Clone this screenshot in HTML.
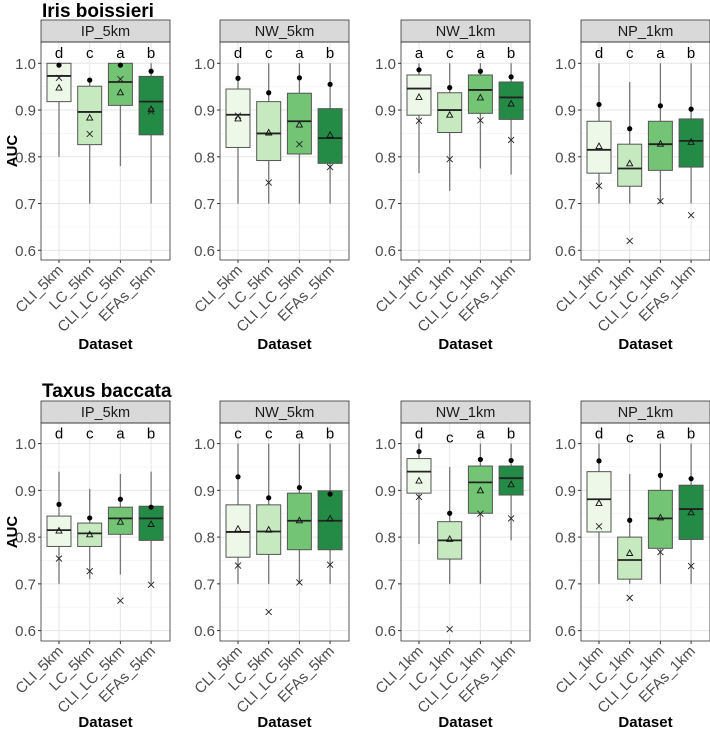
<!DOCTYPE html>
<html><head><meta charset="utf-8">
<style>
html,body{margin:0;padding:0;background:#fff;}
svg{display:block;font-family:"Liberation Sans",Arial,sans-serif;}
</style></head>
<body>
<svg id="chart" width="710" height="729" viewBox="0 0 710 729" xmlns="http://www.w3.org/2000/svg"></svg>
<script>
// ---- data ----
const categories5 = ["CLI_5km","LC_5km","CLI_LC_5km","EFAs_5km"];
const categories1 = ["CLI_1km","LC_1km","CLI_LC_1km","EFAs_1km"];
const panelTitles = ["IP_5km","NW_5km","NW_1km","NP_1km","IP_5km","NW_5km","NW_1km","NP_1km"];
const rowTitles = ["Iris boissieri","Taxus baccata"];
const yTicks = [0.6,0.7,0.8,0.9,1.0];
const yTickLabels = ["0.6","0.7","0.8","0.9","1.0"];
// each box: [lowerWhisker, q1, median, q3, upperWhisker]
const boxStats = [
 [[0.80,0.918,0.973,1.0,1.0],[0.70,0.826,0.896,0.951,0.965],[0.78,0.91,0.96,1.0,1.0],[0.70,0.847,0.918,0.972,1.0]],
 [[0.70,0.82,0.89,0.945,1.0],[0.70,0.792,0.85,0.918,1.0],[0.70,0.806,0.876,0.936,1.0],[0.70,0.786,0.84,0.903,1.0]],
 [[0.765,0.889,0.946,0.975,1.0],[0.727,0.852,0.90,0.937,1.0],[0.775,0.893,0.943,0.975,1.0],[0.762,0.88,0.927,0.96,1.0]],
 [[0.70,0.765,0.815,0.876,1.0],[0.70,0.737,0.775,0.827,0.96],[0.70,0.771,0.827,0.876,1.0],[0.70,0.778,0.834,0.881,1.0]],
 [[0.70,0.78,0.815,0.845,0.94],[0.71,0.78,0.808,0.83,0.903],[0.72,0.806,0.84,0.864,0.935],[0.70,0.793,0.84,0.866,0.94]],
 [[0.70,0.757,0.811,0.869,1.0],[0.70,0.763,0.812,0.869,1.0],[0.70,0.773,0.835,0.894,1.0],[0.70,0.773,0.835,0.899,1.0]],
 [[0.785,0.894,0.94,0.968,1.0],[0.70,0.753,0.793,0.833,0.95],[0.70,0.851,0.917,0.952,1.0],[0.793,0.89,0.926,0.952,1.0]],
 [[0.70,0.811,0.881,0.94,1.0],[0.70,0.71,0.751,0.80,0.935],[0.70,0.776,0.84,0.90,1.0],[0.70,0.795,0.86,0.911,1.0]]
];
const dotValues = [
 [0.996,0.964,0.996,0.983],[0.968,0.937,0.969,0.955],[0.986,0.948,0.983,0.971],[0.912,0.86,0.909,0.902],
 [0.87,0.841,0.881,0.864],[0.929,0.884,0.906,0.892],[0.983,0.851,0.966,0.964],[0.963,0.836,0.932,0.925]
];
const triangleValues = [
 [0.948,0.884,0.938,0.902],[0.882,0.852,0.869,0.847],[0.928,0.890,0.927,0.914],[0.823,0.786,0.828,0.832],
 [0.814,0.806,0.833,0.828],[0.818,0.816,0.836,0.84],[0.921,0.796,0.90,0.913],[0.873,0.766,0.842,0.853]
];
const crossValues = [
 [0.969,0.849,0.966,0.897],[0.888,0.745,0.827,0.778],[0.877,0.795,0.878,0.836],[0.738,0.62,0.705,0.675],
 [0.754,0.727,0.664,0.698],[0.739,0.64,0.703,0.741],[0.886,0.603,0.85,0.84],[0.823,0.67,0.768,0.738]
];
const letters = [
 ["d","c","a","b"],["d","c","a","b"],["a","c","a","b"],["d","c","a","b"],
 ["d","c","a","b"],["c","c","a","b"],["d","c","a","b"],["d","c","a","b"]
];
const letterValues = [
 [1.022,1.022,1.022,1.022],[1.022,1.022,1.022,1.022],[1.022,1.022,1.022,1.022],[1.022,1.022,1.022,1.022],
 [1.022,1.022,1.022,1.022],[1.022,1.022,1.022,1.022],[1.022,1.013,1.022,1.022],[1.022,1.013,1.022,1.022]
];
const fills = ["#edf8e9","#c7e9c0","#74c476","#238b45"];

// ---- layout ----
const NS="http://www.w3.org/2000/svg";
const svg=document.getElementById("chart");
const panelLefts=[41,220,401,581];
const PW=129;
const rowStripTop=[20,401], rowStripBot=[42,423], rowPanelBot=[260,641], rowY1=[63.3,443.6];
const PXPER=467.5;
function mk(tag,attrs,parent){const e=document.createElementNS(NS,tag);for(const k in attrs)e.setAttribute(k,attrs[k]);(parent||svg).appendChild(e);return e;}
function yScale(row,v){return rowY1[row]-(v-1.0)*PXPER;}
function xScale(p,i){return panelLefts[p]+18+i*30.7;}

rowTitles.forEach((t,r)=>{
  const e=mk("text",{x:42,y:r===0?17:397,"font-size":"19","font-weight":"bold",fill:"#000"});
  e.textContent=t;
  
  
});

for(let k=0;k<8;k++){
  const row=k<4?0:1, p=k%4;
  const L=panelLefts[p], T=rowStripBot[row], B=rowPanelBot[row];
  const cats=(p<2)?categories5:categories1;
  const g=mk("g",{});
  
  
  mk("rect",{x:L,y:T,width:PW,height:B-T,fill:"#fff"},g);
  for(let v=0.6;v<=1.04;v+=0.05){
    const y=yScale(row,v);
    const major=Math.abs(Math.round(v*10)-v*10)<1e-6;
    mk("line",{x1:L,x2:L+PW,y1:y,y2:y,stroke:major?"#e6e6e6":"#f2f2f2","stroke-width":major?1:0.6},g);
  }
  for(let i=0;i<4;i++){const x=xScale(p,i);mk("line",{x1:x,x2:x,y1:T,y2:B,stroke:"#e6e6e6","stroke-width":1},g);}
  const s=mk("rect",{x:L,y:rowStripTop[row],width:PW,height:T-rowStripTop[row],fill:"#d9d9d9",stroke:"#333","stroke-width":0.8},g);
  
  
  const st=mk("text",{x:L+PW/2,y:rowStripTop[row]+16,"text-anchor":"middle","font-size":"14.5",fill:"#1a1a1a"},g);
  st.textContent=panelTitles[k];
  for(let i=0;i<4;i++){
    const x=xScale(p,i), b=boxStats[k][i];
    const bg=mk("g",{},g);
    
    
    mk("line",{x1:x,x2:x,y1:yScale(row,b[0]),y2:yScale(row,b[1]),stroke:"#777","stroke-width":1.3},bg);
    mk("line",{x1:x,x2:x,y1:yScale(row,b[3]),y2:yScale(row,b[4]),stroke:"#777","stroke-width":1.3},bg);
    mk("rect",{x:x-12,y:yScale(row,b[3]),width:24,height:yScale(row,b[1])-yScale(row,b[3]),fill:fills[i],stroke:"#555","stroke-width":1},bg);
    mk("line",{x1:x-12,x2:x+12,y1:yScale(row,b[2]),y2:yScale(row,b[2]),stroke:"#222","stroke-width":1.8},bg);
    const dy=yScale(row,dotValues[k][i]);
    mk("circle",{cx:x,cy:dy,r:2.6,fill:"#000"},bg);
    const ty=yScale(row,triangleValues[k][i]);
    mk("polygon",{points:`${x-3},${ty+2.5} ${x+3},${ty+2.5} ${x},${ty-3}`,fill:"none",stroke:"#111","stroke-width":0.9},bg);
    const cy=yScale(row,crossValues[k][i]);
    mk("path",{d:`M${x-3},${cy-3}L${x+3},${cy+3}M${x-3},${cy+3}L${x+3},${cy-3}`,stroke:"#222","stroke-width":0.9},bg);
    const lt=mk("text",{x:x,y:yScale(row,letterValues[k][i])+5,"text-anchor":"middle","font-size":"15",fill:"#000"},bg);
    lt.textContent=letters[k][i];
    mk("line",{x1:x,x2:x,y1:B,y2:B+3,stroke:"#333","stroke-width":1},g);
    const xl=mk("text",{x:x+5,y:B+11,"text-anchor":"end","font-size":"15",fill:"#4d4d4d",transform:`rotate(-45 ${x+5} ${B+11})`},g);
    xl.textContent=cats[i];
    
    
  }
  mk("rect",{x:L,y:T,width:PW,height:B-T,fill:"none",stroke:"#333","stroke-width":0.8},g);
  yTicks.forEach((v,j)=>{
    const y=yScale(row,v);
    mk("line",{x1:L-3,x2:L,y1:y,y2:y,stroke:"#333","stroke-width":1},g);
    const yt=mk("text",{x:L-5,y:y+5.5,"text-anchor":"end","font-size":"15",fill:"#4d4d4d"},g);
    yt.textContent=yTickLabels[j];
  });
  const xt=mk("text",{x:L+PW/2,y:row===0?349:727,"text-anchor":"middle","font-size":"15","font-weight":"bold",fill:"#000"},g);
  xt.textContent="Dataset";
  
  
  if(p===0){
    const cy=(T+B)/2;
    const at=mk("text",{x:17,y:cy,"text-anchor":"middle","font-size":"15","font-weight":"bold",fill:"#000",transform:`rotate(-90 17 ${cy})`},g);
    at.textContent="AUC";
    
    
  }
}
</script>
</body></html>
